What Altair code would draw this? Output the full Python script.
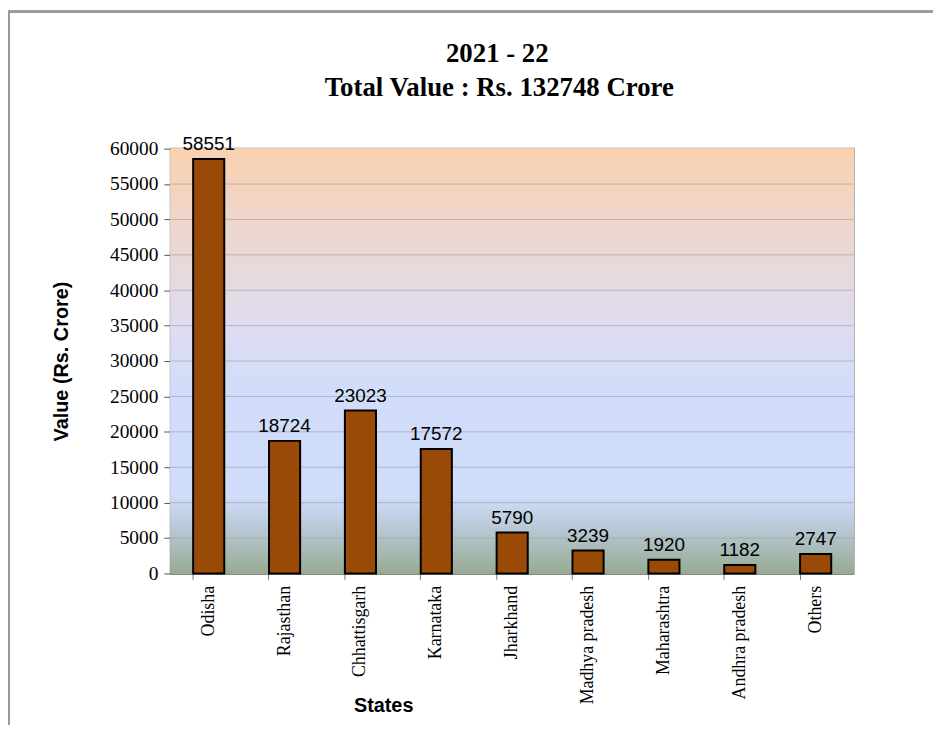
import altair as alt
import pandas as pd

states = ["Odisha", "Rajasthan", "Chhattisgarh", "Karnataka", "Jharkhand",
          "Madhya pradesh", "Maharashtra", "Andhra pradesh", "Others"]
values = [58551, 18724, 23023, 17572, 5790, 3239, 1920, 1182, 2747]
y_ticks = list(range(0, 60001, 5000))
title_lines = ["2021 - 22", "Total Value : Rs. 132748 Crore"]

df = pd.DataFrame({"State": states, "Value": values})
tdf = pd.DataFrame({"t": title_lines, "i": [0, 1]})
gdf = pd.DataFrame({"g": y_ticks[1:-1]})

W, H = 688, 428
PL, PT = 164, 139

xscale = alt.Scale(domain=states, paddingInner=0.59, paddingOuter=0.295)
yscale = alt.Scale(domain=[0, 60000], nice=False)

x_axis = alt.Axis(title="States", labelAngle=-90, labelFont="Liberation Serif",
                  labelFontSize=18, labelColor="#000", labelPadding=6,
                  bandPosition=0, tickSize=6, tickColor="#777",
                  domainColor="#777", domainWidth=1.5,
                  titleFont="Liberation Sans", titleFontSize=20,
                  titleFontWeight="bold", titleColor="#000",
                  titleX=W / 2 - 130, titleY=133, titleBaseline="middle",
                  grid=False)
y_axis = alt.Axis(title="Value (Rs. Crore)", values=y_ticks, format="d",
                  labelFont="Liberation Serif", labelFontSize=19.5,
                  labelColor="#000", labelPadding=6, tickSize=7,
                  labelOverlap=False, grid=False,
                  tickColor="#555", domainColor="#444", domainWidth=1.5,
                  titleFont="Liberation Sans", titleFontSize=20,
                  titleFontWeight="bold", titleColor="#000",
                  titleX=-110, titleY=H / 2, titleBaseline="middle")

bg = alt.Chart(df).mark_rect(
    color=alt.Gradient(
        gradient="linear", x1=0, x2=0, y1=0, y2=1,
        stops=[
            alt.GradientStop(offset=0.0, color="#F9D2B1"),
            alt.GradientStop(offset=0.42, color="#DEDCF0"),
            alt.GradientStop(offset=0.56, color="#D1DDFA"),
            alt.GradientStop(offset=0.82, color="#CFDCFA"),
            alt.GradientStop(offset=0.90, color="#B6C7D2"),
            alt.GradientStop(offset=1.0, color="#97AB92"),
        ],
    )
).encode(x=alt.value(0), x2=alt.value(W), y=alt.value(0), y2=alt.value(H))

grid = alt.Chart(gdf).mark_rule(color="#9C9C9C", strokeWidth=1, opacity=0.6).encode(
    y=alt.Y("g:Q", scale=yscale, axis=y_axis),
    x=alt.value(0), x2=alt.value(W),
)

bars = alt.Chart(df).mark_bar(
    color="#994A07", stroke="#000000", strokeWidth=2
).encode(
    x=alt.X("State:N", scale=xscale, sort=states, axis=x_axis),
    y=alt.Y("Value:Q", scale=yscale, axis=y_axis),
)

labels = alt.Chart(df).mark_text(
    font="Liberation Sans", fontSize=19, color="#000", baseline="bottom", dy=-5
).encode(
    x=alt.X("State:N", scale=xscale, sort=states, axis=x_axis),
    y=alt.Y("Value:Q", scale=yscale, axis=y_axis),
    text=alt.Text("Value:Q", format="d"),
)

title_style = dict(font="Liberation Serif", fontSize=27, fontWeight="bold",
                   color="#000", baseline="middle", align="center")
title1 = alt.Chart(tdf).transform_filter("datum.i == 0").mark_text(**title_style).encode(
    x=alt.value(329), y=alt.value(-95), text="t:N"
)
title2 = alt.Chart(tdf).transform_filter("datum.i == 1").mark_text(**title_style).encode(
    x=alt.value(331), y=alt.value(-61), text="t:N"
)

frame_top = alt.Chart(df).mark_rule(color="#9A9A9A", strokeWidth=2).encode(
    x=alt.value(-PL), x2=alt.value(W + 120), y=alt.value(-PT + 1)
)
frame_left = alt.Chart(df).mark_rule(color="#9A9A9A", strokeWidth=2).encode(
    x=alt.value(-PL + 1), y=alt.value(-PT), y2=alt.value(H + 200)
)

chart = alt.layer(bg, grid, bars, labels, title1, title2, frame_top, frame_left).properties(
    width=W, height=H,
    autosize=alt.AutoSizeParams(type="none"),
    padding={"left": PL, "top": PT, "right": 80, "bottom": 150},
).configure_view(stroke="#808080", strokeWidth=2)

chart.save("out.html", embed_options={"renderer": "svg", "actions": False})
